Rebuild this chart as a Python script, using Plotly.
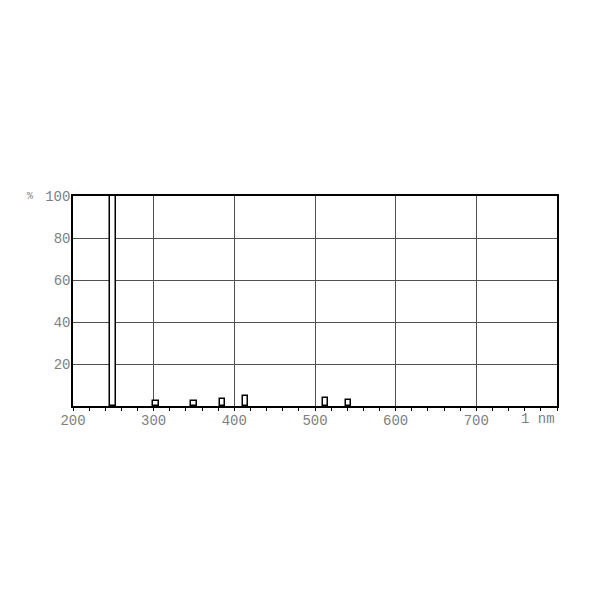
import plotly.graph_objects as go

# emission lines (nm centre, % height)
line_nm = [249.5, 303, 350, 385.5, 414, 513, 541.5]
line_pct = [100, 2.2, 2.5, 3.5, 4.9, 4.0, 3.0]

x_ticks = [200, 300, 400, 500, 600, 700]
y_ticks = [20, 40, 60, 80, 100]

label_font = dict(family="Liberation Mono, Courier New, monospace", size=14, color="#808080")

fig = go.Figure()
fig.add_trace(go.Bar(
    x=line_nm, y=line_pct, width=7,
    marker=dict(color="white", line=dict(color="black", width=1.5)),
    showlegend=False,
))

fig.update_xaxes(
    range=[200, 800], tickvals=x_ticks, ticktext=[str(v) for v in x_ticks],
    showgrid=True, gridcolor="#505050", gridwidth=1,
    showline=True, linecolor="black", linewidth=1.5, mirror=True,
    ticks="outside", ticklen=3, tickcolor="black",
    minor=dict(dtick=20, ticks="outside", ticklen=3, tickcolor="black", showgrid=False),
    tickfont=label_font, zeroline=False, ticklabelstandoff=-3,
)
fig.update_yaxes(
    range=[0, 100], tickvals=y_ticks, ticktext=[str(v) for v in y_ticks],
    showgrid=True, gridcolor="#505050", gridwidth=1,
    showline=True, linecolor="black", linewidth=1.5, mirror=True,
    ticks="", tickfont=label_font, zeroline=False, ticklabelstandoff=-2,
)

# unit labels
fig.add_annotation(x=1.0, y=0, xref="paper", yref="paper", text="1 nm",
                   showarrow=False, xanchor="right", yanchor="top", yshift=-3,
                   font=label_font)
fig.add_annotation(x=0, y=1, xref="paper", yref="paper", text="%",
                   showarrow=False, xanchor="right", yanchor="middle", xshift=-38,
                   font=dict(family="Liberation Mono, monospace", size=10, color="#808080"))

fig.update_layout(
    width=600, height=600,
    margin=dict(l=65, r=51, t=188, b=202),
    plot_bgcolor="white", paper_bgcolor="white",
    bargap=0,
)

fig.write_html("out.html")
